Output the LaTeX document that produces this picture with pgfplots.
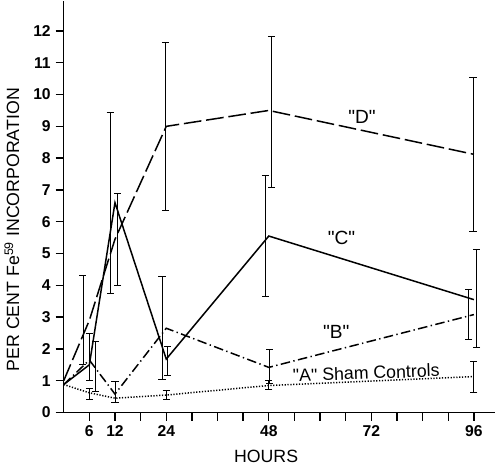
\documentclass[border=0pt]{standalone}
\usepackage{fontspec}
\setmainfont{Liberation Sans}[Ligatures=TeXOff]
\usepackage{pgfplots}
\usepackage{pgfplotstable}
\pgfplotsset{compat=1.18}
\newcommand{\q}{\char34\relax}

% mean curves
\pgfplotstableread{
x y
0 1.0
6 2.9
12 5.45
24 9.0
48 9.5
96 8.12
}\serD
\pgfplotstableread{
x y
0 0.88
6 1.5
12 6.6
24 1.68
48 5.55
96 3.55
}\serC
\pgfplotstableread{
x y
0 0.88
6 1.65
12 0.58
24 2.65
48 1.42
96 3.08
}\serB
\pgfplotstableread{
x y
0 0.88
6 0.62
12 0.45
24 0.55
48 0.85
96 1.13
}\serA
% error bars (drawn slightly offset, as in the original)
\pgfplotstableread{
x y e
4.5 2.9 1.4
12.6 5.45 1.45
23.8 9.0 2.65
48.6 9.45 2.38
95.8 8.12 2.41
6.0 1.75 0.75
10.9 6.6 2.85
24.2 1.63 0.45
47.2 5.55 1.9
96.6 3.59 1.55
7.4 1.45 0.8
12.0 0.64 0.33
23.0 2.66 1.62
48.2 1.45 0.55
94.8 3.09 0.79
6.0 0.59 0.18
24.0 0.55 0.13
48.0 0.88 0.14
96.0 1.12 0.49
}\bars

\begin{document}
\begin{tikzpicture}
\begin{axis}[
  width=316.5pt, height=302pt, scale only axis,
  xmin=0, xmax=101, ymin=0, ymax=12.95,
  axis lines=left, axis line style={-, line width=1.1pt},
  tick align=outside, major tick length=6pt,
  tick style={line width=1pt, black},
  xtick={6,12,...,96},
  xticklabels={6,12,,24,,,,48,,,,72,,,,96},
  ytick={0,...,12},
  tick label style={font=\fontsize{11.5}{13}\selectfont\bfseries},
  /pgf/number format/assume math mode=true,
  xlabel={HOURS},
  ylabel={PER CENT Fe\textsuperscript{59} INCORPORATION},
  label style={font=\fontsize{13}{15}\selectfont},
  xlabel style={at={(axis description cs:0.469,0)}, anchor=north, yshift=-24pt},
  ylabel style={at={(axis description cs:-0.12,0.444)}, anchor=center},
  clip=false]
\addplot[black, line width=1.1pt, dash pattern=on 13pt off 3.5pt] table[x=x,y=y] \serD;
\addplot[black, line width=1.1pt] table[x=x,y=y] \serC;
\addplot[black, line width=1.1pt, dash pattern=on 7pt off 2.5pt on 1pt off 2.5pt] table[x=x,y=y] \serB;
\addplot[black, line width=1.1pt, dash pattern=on 0.9pt off 1.2pt] table[x=x,y=y] \serA;
\addplot[draw=none, mark=none, forget plot,
  error bars/.cd, y dir=both, y explicit,
  error bar style={draw=black, solid, line width=0.6pt},
  error mark options={draw=black, solid, rotate=90, mark size=2.6pt, line width=0.6pt}]
  table[x=x, y=y, y error=e] \bars;
\node[font=\fontsize{14}{16}\selectfont] at (axis cs:69.8,9.3) {\q D\q};
\node[font=\fontsize{14}{16}\selectfont] at (axis cs:65,5.5) {\q C\q};
\node[font=\fontsize{14}{16}\selectfont] at (axis cs:63.8,2.55) {\q B\q};
\node[font=\fontsize{13}{15}\selectfont, rotate=2] at (axis cs:70.8,1.25) {\q A\q{} Sham Controls};
\end{axis}
\end{tikzpicture}
\end{document}
